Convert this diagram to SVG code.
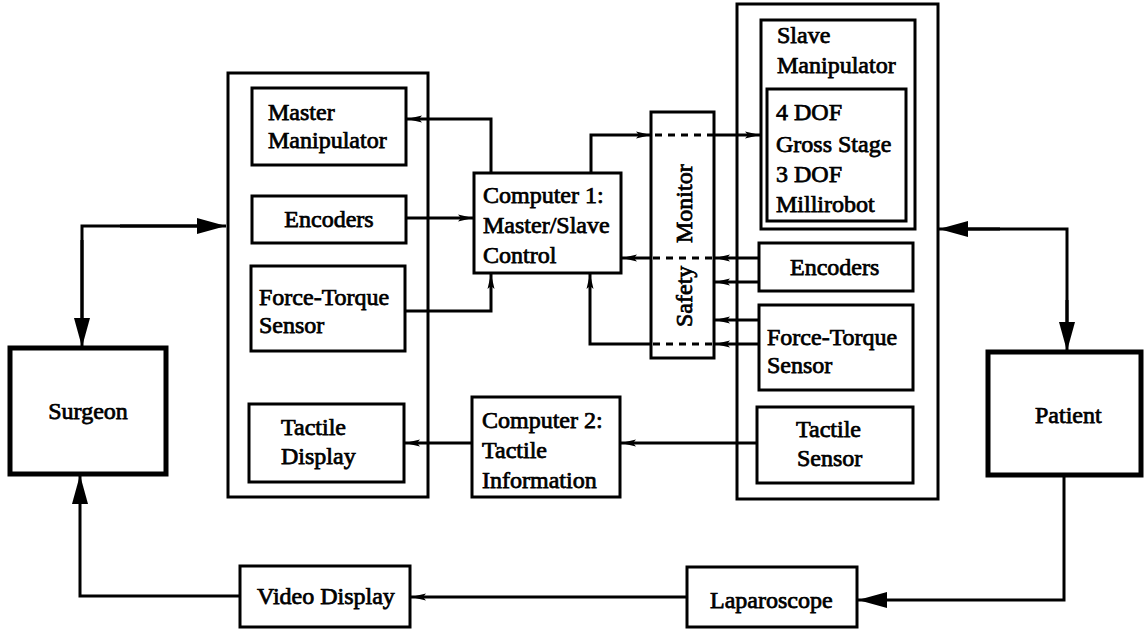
<svg xmlns="http://www.w3.org/2000/svg" width="1145" height="632" viewBox="0 0 1145 632">
<style>
.box{fill:none;stroke:#000;stroke-width:3}
.thick{fill:none;stroke:#000;stroke-width:5}
.ln{fill:none;stroke:#000;stroke-width:3}
.dash{fill:none;stroke:#000;stroke-width:3;stroke-dasharray:7 6}
text{font-family:"Liberation Serif","Times New Roman","DejaVu Serif",serif;font-size:24px;fill:#000;stroke:#000;stroke-width:0.75}
.c{text-anchor:middle}
</style>
<defs>
<marker id="sa" markerUnits="userSpaceOnUse" markerWidth="18" markerHeight="12" refX="15" refY="5" orient="auto" viewBox="0 0 18 10">
<path d="M0,1.5 L15,5 L0,8.5 L3,5 z" fill="#000"/>
</marker>
<marker id="la" markerUnits="userSpaceOnUse" markerWidth="30" markerHeight="18" refX="29" refY="8" orient="auto" viewBox="0 0 30 16">
<path d="M0,0 L29,8 L0,16 z" fill="#000"/>
</marker>
</defs>
<rect width="1145" height="632" fill="#fff"/>

<g id="master-side">
<rect class="box" x="228" y="73" width="200" height="424"/>
</g>
<g id="master-manipulator">
<rect class="box" x="252" y="88" width="154" height="77"/>
<text x="268" y="120">Master</text>
<text x="268" y="148">Manipulator</text>
</g>
<g id="encoders-master">
<rect class="box" x="252" y="196" width="154" height="47"/>
<text class="c" x="329" y="227">Encoders</text>
</g>
<g id="ft-master">
<rect class="box" x="251" y="266" width="154" height="85"/>
<text x="259" y="305">Force-Torque</text>
<text x="259" y="333">Sensor</text>
</g>
<g id="tactile-display">
<rect class="box" x="249" y="404" width="155" height="78"/>
<text x="281" y="435">Tactile</text>
<text x="281" y="464">Display</text>
</g>
<g id="surgeon">
<rect class="thick" x="10" y="348" width="156" height="126"/>
<text class="c" x="88" y="419">Surgeon</text>
</g>
<g id="video-display">
<rect class="box" x="240" y="566" width="170" height="61"/>
<text x="257" y="604">Video Display</text>
</g>
<g id="computer1">
<rect class="box" x="474" y="173" width="147" height="100"/>
<text x="483" y="203">Computer 1:</text>
<text x="483" y="233">Master/Slave</text>
<text x="483" y="263">Control</text>
</g>
<g id="computer2">
<rect class="box" x="472" y="397" width="148" height="100"/>
<text x="482" y="428">Computer 2:</text>
<text x="482" y="458">Tactile</text>
<text x="482" y="488">Information</text>
</g>
<g id="safety-monitor">
<rect class="box" x="651" y="112" width="63" height="246"/>
<text transform="translate(692,327) rotate(-90)">Safety</text>
<text transform="translate(692,243) rotate(-90)">Monitor</text>
</g>
<g id="slave-side">
<rect class="box" x="737" y="4" width="201" height="495"/>
</g>
<g id="slave-manipulator">
<rect class="box" x="761" y="20" width="154" height="209"/>
<text x="777" y="43">Slave</text>
<text x="777" y="73">Manipulator</text>
<rect class="box" x="767" y="89" width="139" height="132"/>
<text x="776" y="120">4 DOF</text>
<text x="776" y="152">Gross Stage</text>
<text x="776" y="182">3 DOF</text>
<text x="776" y="212">Millirobot</text>
</g>
<g id="encoders-slave">
<rect class="box" x="759" y="243" width="154" height="48"/>
<text x="790" y="275">Encoders</text>
</g>
<g id="ft-slave">
<rect class="box" x="759" y="305" width="154" height="85"/>
<text x="767" y="345">Force-Torque</text>
<text x="767" y="373">Sensor</text>
</g>
<g id="tactile-sensor">
<rect class="box" x="757" y="407" width="156" height="76"/>
<text x="796" y="437">Tactile</text>
<text x="797" y="466">Sensor</text>
</g>
<g id="patient">
<rect class="thick" x="988" y="352" width="153" height="123"/>
<text x="1035" y="423">Patient</text>
</g>
<g id="laparoscope">
<rect class="box" x="687" y="567" width="170" height="60"/>
<text x="710" y="608">Laparoscope</text>
</g>

<g id="connectors">
<path class="ln" d="M82,318 L82,226 L200,226" />
<path class="ln" d="M82,240 L82,347" marker-end="url(#la)"/>
<path class="ln" d="M120,226 L226,226" marker-end="url(#la)"/>
<path class="ln" d="M1067,330 L1067,229 L960,229"/>
<path class="ln" d="M1000,229 L939,229" marker-end="url(#la)"/>
<path class="ln" d="M1067,300 L1067,351" marker-end="url(#la)"/>
<path class="ln" d="M1064,475 L1064,600 L858,600" marker-end="url(#la)"/>
<path class="ln" d="M687,597 L411,597" marker-end="url(#sa)"/>
<path class="ln" d="M240,596 L80,596 L80,475" marker-end="url(#la)"/>
<path class="ln" d="M491,173 L491,119 L407,119" marker-end="url(#sa)"/>
<path class="ln" d="M406,218 L473,218" marker-end="url(#sa)"/>
<path class="ln" d="M405,311 L491,311 L491,274" marker-end="url(#sa)"/>
<path class="ln" d="M591,173 L591,135 L651,135" marker-end="url(#sa)"/>
<path class="dash" d="M655,135 L714,135"/>
<path class="ln" d="M714,135 L760,135" marker-end="url(#sa)"/>
<path class="ln" d="M759,258 L715,258" marker-end="url(#sa)"/>
<path class="dash" d="M712,258 L652,258"/>
<path class="ln" d="M652,258 L622,258" marker-end="url(#sa)"/>
<path class="ln" d="M759,282 L715,282" marker-end="url(#sa)"/>
<path class="ln" d="M759,320 L715,320" marker-end="url(#sa)"/>
<path class="ln" d="M759,344 L715,344" marker-end="url(#sa)"/>
<path class="dash" d="M712,344 L652,344"/>
<path class="ln" d="M652,344 L590,344 L590,274" marker-end="url(#sa)"/>
<path class="ln" d="M757,443 L621,443" marker-end="url(#sa)"/>
<path class="ln" d="M472,443 L405,443" marker-end="url(#sa)"/>
</g>
</svg>
